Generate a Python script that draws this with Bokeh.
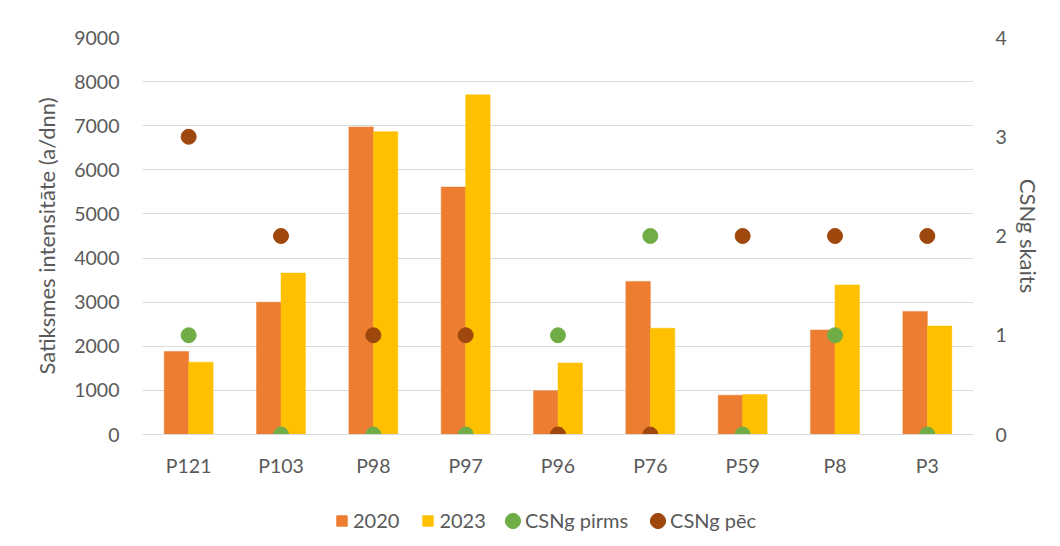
from bokeh.plotting import figure
from bokeh.layouts import column
from bokeh.models import ColumnDataSource, Range1d, LinearAxis, Legend, LegendItem, FactorRange, FixedTicker
from bokeh.transform import dodge
from bokeh.embed import file_html
from bokeh.resources import INLINE

categories = ["P121", "P103", "P98", "P97", "P96", "P76", "P59", "P8", "P3"]
v2020 = [1880, 3000, 6970, 5610, 990, 3470, 890, 2370, 2790]
v2023 = [1640, 3660, 6865, 7700, 1620, 2410, 905, 3390, 2460]
csng_pirms = [1, 0, 0, 0, 1, 2, 0, 1, 0]
csng_pec = [3, 2, 1, 1, 0, 0, 2, 2, 2]
left_ticks = [0, 1000, 2000, 3000, 4000, 5000, 6000, 7000, 8000, 9000]
right_ticks = [0, 1, 2, 3, 4]
series_names = ["2020", "2023", "CSNg pirms", "CSNg pēc"]
colors = ["#ED7D31", "#FFC000", "#70AD47", "#9E480E"]

FONT = "Lato"
TXT = "#595959"
TICK_SIZE = "19.5px"
TITLE_SIZE = "22px"

src = ColumnDataSource(dict(cat=categories, v2020=v2020, v2023=v2023,
                            pirms=csng_pirms, pec=csng_pec))

p = figure(width=1052, height=480, x_range=FactorRange(*categories, range_padding=0),
           y_range=Range1d(0, 9000), output_backend="svg", toolbar_location=None,
           min_border_left=142, min_border_right=79, min_border_top=37, min_border_bottom=46)
p.extra_y_ranges = {"csng": Range1d(0, 4)}
p.outline_line_color = None

bw = 0.265
p.vbar(x=dodge("cat", -bw / 2, range=p.x_range), top="v2020", width=bw, source=src,
       fill_color=colors[0], line_color=colors[0], line_width=0.5)
p.vbar(x=dodge("cat", bw / 2, range=p.x_range), top="v2023", width=bw, source=src,
       fill_color=colors[1], line_color=colors[1], line_width=0.5)
p.scatter(x="cat", y="pirms", source=src, y_range_name="csng", size=15,
          fill_color=colors[2], line_color=colors[2])
p.scatter(x="cat", y="pec", source=src, y_range_name="csng", size=15,
          fill_color=colors[3], line_color=colors[3])

# grid
p.xgrid.grid_line_color = None
p.ygrid.grid_line_color = "#D9D9D9"
p.ygrid.grid_line_width = 1.2
p.ygrid.ticker = FixedTicker(ticks=left_ticks)

# left axis
ya = p.yaxis[0]
ya.ticker = FixedTicker(ticks=left_ticks)
ya.axis_line_color = None
ya.major_tick_line_color = None
ya.minor_tick_line_color = None
ya.major_label_standoff = 17
ya.major_label_text_font = FONT
ya.major_label_text_font_size = TICK_SIZE
ya.major_label_text_color = TXT
ya.axis_label = "Satiksmes intensitāte (a/dnn)"
ya.axis_label_text_font = FONT
ya.axis_label_text_font_size = TITLE_SIZE
ya.axis_label_text_font_style = "normal"
ya.axis_label_text_color = TXT
ya.axis_label_standoff = 11

# right axis
ra = LinearAxis(y_range_name="csng", ticker=FixedTicker(ticks=right_ticks))
ra.axis_line_color = None
ra.major_tick_line_color = None
ra.minor_tick_line_color = None
ra.major_label_standoff = 16
ra.major_label_text_font = FONT
ra.major_label_text_font_size = TICK_SIZE
ra.major_label_text_color = TXT
ra.axis_label = "CSNg skaits"
ra.axis_label_text_font = FONT
ra.axis_label_text_font_size = TITLE_SIZE
ra.axis_label_text_font_style = "normal"
ra.axis_label_text_color = TXT
ra.axis_label_standoff = 5
p.add_layout(ra, "right")

# x axis
xa = p.xaxis[0]
xa.axis_line_color = "#D9D9D9"
xa.axis_line_width = 1.2
xa.major_tick_line_color = None
xa.minor_tick_line_color = None
xa.major_label_standoff = 13
xa.major_label_text_font = FONT
xa.major_label_text_font_size = TICK_SIZE
xa.major_label_text_color = TXT

# legend strip below the chart (its frame is aligned with the chart frame, x0 = 142)
lg = figure(width=1052, height=66, x_range=Range1d(0, 1), y_range=Range1d(0, 1),
            x_axis_type=None, y_axis_type=None, output_backend="svg", toolbar_location=None,
            min_border=0)
lg.outline_line_color = None
lg.grid.grid_line_color = None
off = [-10.0]
d20 = lg.vbar(x=off, top=off, width=0.1, fill_color=colors[0], line_color=colors[0])
d23 = lg.vbar(x=off, top=off, width=0.1, fill_color=colors[1], line_color=colors[1])
dp = lg.ellipse(x=off, y=off, width=15, height=15, width_units="screen", height_units="screen",
                fill_color=colors[2], line_color=colors[2])
de = lg.ellipse(x=off, y=off, width=15, height=15, width_units="screen", height_units="screen",
                fill_color=colors[3], line_color=colors[3])


def style(lgd, gsize, standoff, spacing):
    lgd.label_text_font = FONT
    lgd.label_text_font_size = "20px"
    lgd.label_text_color = TXT
    lgd.border_line_color = None
    lgd.background_fill_alpha = 0
    lgd.glyph_width = gsize
    lgd.glyph_height = gsize
    lgd.label_height = 24
    lgd.label_standoff = standoff
    lgd.spacing = spacing
    lgd.margin = 0
    lgd.padding = 0


leg_bars = Legend(items=[
    LegendItem(label=series_names[0], renderers=[d20]),
    LegendItem(label=series_names[1], renderers=[d23]),
], orientation="horizontal", location=(193, 14))
style(leg_bars, 13, 5, 22)
leg_dots = Legend(items=[
    LegendItem(label=series_names[2], renderers=[dp]),
    LegendItem(label=series_names[3], renderers=[de]),
], orientation="horizontal", location=(361, 14))
style(leg_dots, 19, 3, 20)
lg.add_layout(leg_bars, "center")
lg.add_layout(leg_dots, "center")

layout = column(p, lg, spacing=0)
open("out.html", "w").write(file_html(layout, INLINE))
